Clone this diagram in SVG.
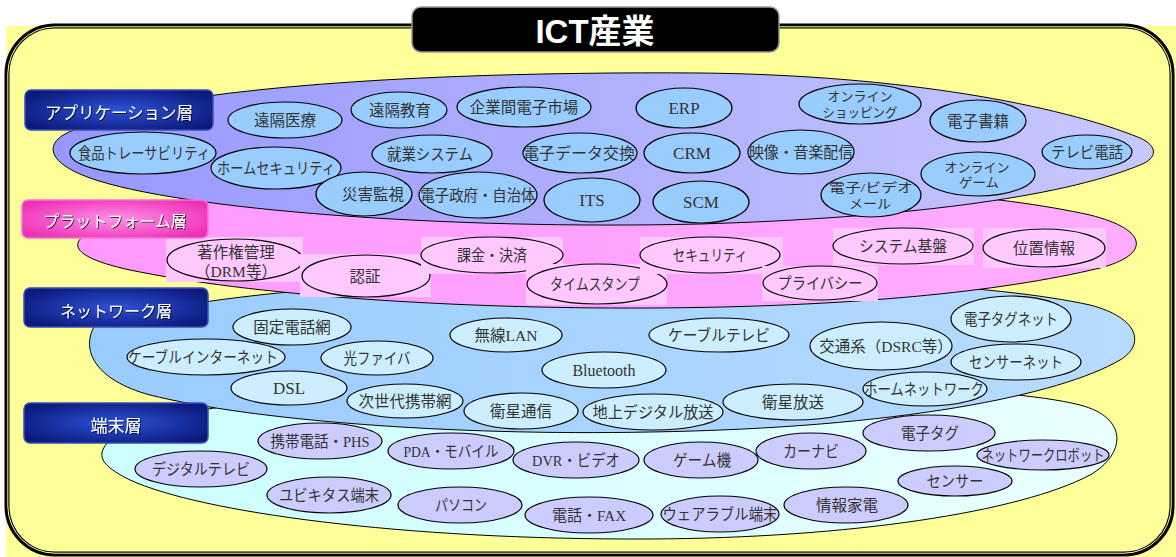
<svg xmlns="http://www.w3.org/2000/svg" width="1176" height="557" viewBox="0 0 1176 557">
<defs>
<linearGradient id="appGrad" x1="0" y1="0" x2="1" y2="0"><stop offset="0" stop-color="#9797FF"/><stop offset="1" stop-color="#C8C8FF"/></linearGradient>
<linearGradient id="platGrad" x1="0" y1="0" x2="1" y2="0"><stop offset="0" stop-color="#FF99FF"/><stop offset="1" stop-color="#FFACFF"/></linearGradient>
<linearGradient id="netGrad" x1="0" y1="0" x2="1" y2="0"><stop offset="0" stop-color="#99CCFF"/><stop offset="1" stop-color="#B8DCFF"/></linearGradient>
<linearGradient id="termGrad" x1="0" y1="0" x2="1" y2="0"><stop offset="0" stop-color="#CCFFFF"/><stop offset="1" stop-color="#EAFFFF"/></linearGradient>
<radialGradient id="blueLabel" cx="0.5" cy="0.5" r="0.6"><stop offset="0" stop-color="#2E52D8"/><stop offset="1" stop-color="#0B1A7C"/></radialGradient>
<radialGradient id="pinkLabel" cx="0.5" cy="0.5" r="0.6"><stop offset="0" stop-color="#FF92E6"/><stop offset="1" stop-color="#EE30B8"/></radialGradient>
<filter id="shadow" x="-10%" y="-30%" width="120%" height="160%"><feDropShadow dx="1" dy="1" stdDeviation="0.6" flood-color="#000" flood-opacity="0.7"/></filter>
</defs>
<style>
.band{stroke:#000;stroke-width:1}
ellipse{stroke:#000;stroke-width:1.2}
.app ellipse{fill:#99CCFF}
.plat ellipse{fill:#FFC8FF}
.plat rect{fill:#FFC8FF}
.net ellipse{fill:#CCEEFF}
.term ellipse{fill:#CCCCFF}
.t{font-family:"Liberation Serif","Noto Sans CJK JP",serif;font-size:15.5px;fill:#333;text-anchor:middle}
.s{font-size:14px}
.xs{font-size:13px}
.lat{font-size:17px}
.lbl{font-family:"Noto Sans CJK JP",sans-serif;font-size:16px;fill:#fff;text-anchor:middle;filter:url(#shadow)}
.lblbox{stroke-width:1.5}
</style>

<!-- background & frame -->
<rect x="6" y="26" width="1170" height="531" fill="#FFFF99"/>
<rect x="7" y="26" width="1165" height="528" rx="48" fill="none" stroke="#000" stroke-width="5"/>
<rect x="7.8" y="26.8" width="1163.4" height="526.4" rx="47.2" fill="none" stroke="#FFFF99" stroke-width="1"/>

<!-- terminal layer -->
<g id="terminal-layer">
<path class="band" fill="url(#termGrad)" d="M110,440 C140,410 300,392 500,388 C800,383 1000,385 1080,405 C1130,418 1125,455 1090,475 C1020,512 850,538 650,539 C400,540 200,512 130,480 C100,465 95,455 110,440 Z"/>
</g>
<g id="term-digitaltv" class="term"><ellipse cx="201" cy="469" rx="66" ry="18"/><text class="t" x="201" y="474.5" textLength="98" lengthAdjust="spacingAndGlyphs">デジタルテレビ</text></g>
<g id="term-keitai" class="term"><ellipse cx="320" cy="441" rx="62" ry="18"/><text class="t" x="320" y="446.5" textLength="99" lengthAdjust="spacingAndGlyphs">携帯電話・PHS</text></g>
<g id="term-ubiquitous" class="term"><ellipse cx="329" cy="495" rx="62" ry="18"/><text class="t" x="329" y="500.5" textLength="100" lengthAdjust="spacingAndGlyphs">ユビキタス端末</text></g>
<g id="term-pda" class="term"><ellipse cx="451" cy="451" rx="63" ry="18"/><text class="t" x="451" y="456.5" textLength="95" lengthAdjust="spacingAndGlyphs">PDA・モバイル</text></g>
<g id="term-dvr" class="term"><ellipse cx="576" cy="460" rx="63" ry="18"/><text class="t" x="576" y="465.5" textLength="88" lengthAdjust="spacingAndGlyphs">DVR・ビデオ</text></g>
<g id="term-game" class="term"><ellipse cx="701" cy="460" rx="57" ry="18"/><text class="t" x="702" y="465.5" textLength="58" lengthAdjust="spacingAndGlyphs">ゲーム機</text></g>
<g id="term-carnavi" class="term"><ellipse cx="811" cy="451" rx="55" ry="18"/><text class="t" x="811" y="456.5" textLength="56" lengthAdjust="spacingAndGlyphs">カーナビ</text></g>
<g id="term-etag" class="term"><ellipse cx="929" cy="433" rx="66" ry="18"/><text class="t" x="930" y="438.5" textLength="58" lengthAdjust="spacingAndGlyphs">電子タグ</text></g>
<g id="term-robot" class="term"><ellipse cx="1043" cy="455" rx="66" ry="15"/><text class="t" x="1043" y="460.5" textLength="123" lengthAdjust="spacingAndGlyphs">ネットワークロボット</text></g>
<g id="term-sensor" class="term"><ellipse cx="955" cy="481" rx="57" ry="15"/><text class="t" x="955" y="486.5" textLength="57" lengthAdjust="spacingAndGlyphs">センサー</text></g>
<g id="term-kaden" class="term"><ellipse cx="846" cy="505" rx="62" ry="18"/><text class="t" x="847" y="510.5">情報家電</text></g>
<g id="term-pc" class="term"><ellipse cx="460" cy="505" rx="62" ry="18"/><text class="t" x="461" y="510.5" textLength="52" lengthAdjust="spacingAndGlyphs">パソコン</text></g>
<g id="term-fax" class="term"><ellipse cx="589" cy="515" rx="64" ry="18"/><text class="t" x="589" y="520.5" textLength="74" lengthAdjust="spacingAndGlyphs">電話・FAX</text></g>
<g id="term-wearable" class="term"><ellipse cx="720" cy="514" rx="59" ry="18"/><text class="t" x="720" y="519.5" textLength="115" lengthAdjust="spacingAndGlyphs">ウェアラブル端末</text></g>

<!-- network layer -->
<g id="network-layer">
<path class="band" fill="url(#netGrad)" d="M95,325 C180,298 350,282 550,278 C800,273 1000,285 1090,305 C1140,318 1145,345 1120,360 C1060,395 900,428 650,432 C450,436 250,420 150,395 C95,380 80,350 95,325 Z"/>
</g>
<g id="net-kotei" class="net"><ellipse cx="292" cy="327" rx="59" ry="18"/><text class="t" x="292" y="332.5">固定電話網</text></g>
<g id="net-cableinternet" class="net"><ellipse cx="206" cy="357" rx="79" ry="18"/><text class="t" x="203" y="362.5" textLength="150" lengthAdjust="spacingAndGlyphs">ケーブルインターネット</text></g>
<g id="net-hikari" class="net"><ellipse cx="377" cy="358" rx="56" ry="17"/><text class="t" x="377" y="363.5" textLength="67" lengthAdjust="spacingAndGlyphs">光ファイバ</text></g>
<g id="net-wlan" class="net"><ellipse cx="506" cy="335" rx="56" ry="17"/><text class="t" x="506" y="340.5">無線LAN</text></g>
<g id="net-cabletv" class="net"><ellipse cx="719" cy="335" rx="70" ry="17"/><text class="t" x="719" y="340.5" textLength="102" lengthAdjust="spacingAndGlyphs">ケーブルテレビ</text></g>
<g id="net-bluetooth" class="net"><ellipse cx="604" cy="370" rx="62" ry="18"/><text class="t" x="604" y="376" style="font-size:16px">Bluetooth</text></g>
<g id="net-dsrc" class="net"><ellipse cx="881" cy="346" rx="71" ry="24"/><text class="t" x="886" y="351.5">交通系（DSRC等）</text></g>
<g id="net-tagnet" class="net"><ellipse cx="1011" cy="319" rx="60" ry="23"/><text class="t" x="1011" y="324.5" textLength="94" lengthAdjust="spacingAndGlyphs">電子タグネット</text></g>
<g id="net-sensornet" class="net"><ellipse cx="1016" cy="362" rx="65" ry="18"/><text class="t" x="1016" y="367.5" textLength="94" lengthAdjust="spacingAndGlyphs">センサーネット</text></g>
<g id="net-dsl" class="net"><ellipse cx="289" cy="388" rx="58" ry="17"/><text class="t lat" x="289" y="394">DSL</text></g>
<g id="net-jisedai" class="net"><ellipse cx="405" cy="401" rx="58" ry="17"/><text class="t" x="405" y="406.5">次世代携帯網</text></g>
<g id="net-eiseitsushin" class="net"><ellipse cx="521" cy="411" rx="57" ry="18"/><text class="t" x="521" y="416.5">衛星通信</text></g>
<g id="net-chideji" class="net"><ellipse cx="653" cy="412" rx="70" ry="18"/><text class="t" x="653" y="417.5" textLength="121" lengthAdjust="spacingAndGlyphs">地上デジタル放送</text></g>
<g id="net-eiseihoso" class="net"><ellipse cx="793" cy="402" rx="70" ry="18"/><text class="t" x="793" y="407.5">衛星放送</text></g>
<g id="net-homenet" class="net"><ellipse cx="925" cy="389" rx="62" ry="17"/><text class="t" x="924" y="394.5" textLength="120" lengthAdjust="spacingAndGlyphs">ホームネットワーク</text></g>

<!-- platform layer -->
<g id="platform-layer">
<path class="band" fill="url(#platGrad)" d="M85,215 C200,190 400,185 600,183 C850,182 1000,195 1090,215 C1150,230 1150,255 1100,268 C1000,292 850,307 650,308 C450,309 250,295 130,270 C75,258 70,245 85,235 Z"/>
</g>
<g id="plat-drm" class="plat"><rect x="166" y="237" width="137" height="45"/><ellipse cx="235" cy="260" rx="68" ry="21"/><text class="t" x="236" y="258">著作権管理</text><text class="t" x="236" y="277">（DRM等）</text></g>
<g id="plat-ninsho" class="plat"><rect x="300" y="254" width="131" height="43"/><ellipse cx="366" cy="276" rx="64" ry="21"/><text class="t" x="365" y="282">認証</text></g>
<g id="plat-kakin" class="plat"><rect x="421" y="237" width="142" height="37"/><ellipse cx="492" cy="255" rx="71" ry="18"/><text class="t" x="492" y="261" textLength="70" lengthAdjust="spacingAndGlyphs">課金・決済</text></g>
<g id="plat-timestamp" class="plat"><rect x="526" y="264" width="141" height="41"/><ellipse cx="597" cy="284" rx="70" ry="20"/><text class="t" x="595" y="290" textLength="90" lengthAdjust="spacingAndGlyphs">タイムスタンプ</text></g>
<g id="plat-security" class="plat"><rect x="640" y="237" width="143" height="37"/><ellipse cx="710" cy="255" rx="70" ry="18"/><text class="t" x="710" y="261" textLength="75" lengthAdjust="spacingAndGlyphs">セキュリティ</text></g>
<g id="plat-privacy" class="plat"><rect x="762" y="266" width="116" height="35"/><ellipse cx="820" cy="283" rx="57" ry="17"/><text class="t" x="820" y="289" textLength="85" lengthAdjust="spacingAndGlyphs">プライバシー</text></g>
<g id="plat-system" class="plat"><rect x="833" y="228" width="141" height="37"/><ellipse cx="903" cy="246" rx="70" ry="18"/><text class="t" x="903" y="252" textLength="88" lengthAdjust="spacingAndGlyphs">システム基盤</text></g>
<g id="plat-ichi" class="plat"><rect x="983" y="228" width="123" height="40"/><ellipse cx="1044" cy="248" rx="61" ry="19"/><text class="t" x="1044" y="254">位置情報</text></g>

<!-- application layer -->
<g id="application-layer">
<path class="band" fill="url(#appGrad)" d="M200,97 C350,76 550,72 700,73 C900,75 1060,105 1140,138 C1158,146 1158,158 1140,165 C1060,198 900,218 700,224 C450,230 180,210 90,178 C40,160 45,138 80,128 Z"/>
</g>
<g id="app-iryo" class="app"><ellipse cx="285" cy="120" rx="57" ry="18"/><text class="t" x="285" y="125.5">遠隔医療</text></g>
<g id="app-kyoiku" class="app"><ellipse cx="399" cy="110" rx="48" ry="18"/><text class="t" x="400" y="115.5">遠隔教育</text></g>
<g id="app-shijo" class="app"><ellipse cx="524" cy="107" rx="67" ry="20"/><text class="t" x="524" y="112.5">企業間電子市場</text></g>
<g id="app-erp" class="app"><ellipse cx="684" cy="108" rx="48" ry="20"/><text class="t lat" x="684" y="114">ERP</text></g>
<g id="app-shopping" class="app"><ellipse cx="860" cy="104" rx="61" ry="20"/><text class="t xs" x="860" y="101" textLength="65" lengthAdjust="spacingAndGlyphs">オンライン</text><text class="t xs" x="860" y="117" textLength="75" lengthAdjust="spacingAndGlyphs">ショッピング</text></g>
<g id="app-shoseki" class="app"><ellipse cx="978" cy="121" rx="48" ry="21"/><text class="t" x="978" y="126.5">電子書籍</text></g>
<g id="app-trace" class="app"><ellipse cx="143" cy="153" rx="73" ry="21"/><text class="t" x="144" y="158.5" textLength="132" lengthAdjust="spacingAndGlyphs">食品トレーサビリティ</text></g>
<g id="app-homesec" class="app"><ellipse cx="276" cy="168" rx="65" ry="21"/><text class="t" x="276" y="173.5" textLength="118" lengthAdjust="spacingAndGlyphs">ホームセキュリティ</text></g>
<g id="app-shugyo" class="app"><ellipse cx="432" cy="154" rx="60" ry="19"/><text class="t" x="430" y="159.5" textLength="86" lengthAdjust="spacingAndGlyphs">就業システム</text></g>
<g id="app-edi" class="app"><ellipse cx="580" cy="153" rx="57" ry="20"/><text class="t" x="579" y="158.5" textLength="112" lengthAdjust="spacingAndGlyphs">電子データ交換</text></g>
<g id="app-crm" class="app"><ellipse cx="692" cy="153" rx="48" ry="20"/><text class="t lat" x="692" y="159">CRM</text></g>
<g id="app-eizo" class="app"><ellipse cx="801" cy="152" rx="53" ry="22"/><text class="t" x="801" y="157.5" textLength="104" lengthAdjust="spacingAndGlyphs">映像・音楽配信</text></g>
<g id="app-tvphone" class="app"><ellipse cx="1087" cy="152" rx="45" ry="17"/><text class="t" x="1087" y="157.5" textLength="72" lengthAdjust="spacingAndGlyphs">テレビ電話</text></g>
<g id="app-game" class="app"><ellipse cx="978" cy="174" rx="57" ry="22"/><text class="t xs" x="977" y="172" textLength="65" lengthAdjust="spacingAndGlyphs">オンライン</text><text class="t xs" x="979" y="187" textLength="40" lengthAdjust="spacingAndGlyphs">ゲーム</text></g>
<g id="app-mail" class="app"><ellipse cx="871" cy="195" rx="50" ry="22"/><text class="t xs" x="871" y="192" textLength="84" lengthAdjust="spacingAndGlyphs">電子/ビデオ</text><text class="t xs" x="870" y="208" textLength="42" lengthAdjust="spacingAndGlyphs">メール</text></g>
<g id="app-saigai" class="app"><ellipse cx="364" cy="194" rx="48" ry="22"/><text class="t" x="373" y="199.5">災害監視</text></g>
<g id="app-seifu" class="app"><ellipse cx="478" cy="195" rx="59" ry="23"/><text class="t" x="478" y="200.5" textLength="115" lengthAdjust="spacingAndGlyphs">電子政府・自治体</text></g>
<g id="app-its" class="app"><ellipse cx="592" cy="200" rx="48" ry="22"/><text class="t lat" x="592" y="206">ITS</text></g>
<g id="app-scm" class="app"><ellipse cx="701" cy="202" rx="48" ry="21"/><text class="t lat" x="701" y="208">SCM</text></g>

<!-- layer labels -->
<g id="label-application"><rect class="lblbox" x="25" y="90" width="188" height="40" rx="6" fill="url(#blueLabel)" stroke="#3A4CB8"/><text class="lbl" x="119" y="118.5" style="font-size:16.5px">アプリケーション層</text></g>
<g id="label-platform"><rect class="lblbox" x="22" y="200" width="186" height="38" rx="6" fill="url(#pinkLabel)" stroke="#FF70D4"/><text class="lbl" x="115" y="227">プラットフォーム層</text></g>
<g id="label-network"><rect class="lblbox" x="24" y="288" width="184" height="39" rx="6" fill="url(#blueLabel)" stroke="#3A4CB8"/><text class="lbl" x="116" y="317">ネットワーク層</text></g>
<g id="label-terminal"><rect class="lblbox" x="24" y="403" width="184" height="40" rx="6" fill="url(#blueLabel)" stroke="#3A4CB8"/><text class="lbl" x="116" y="432" style="font-size:17px">端末層</text></g>

<!-- title -->
<g id="title"><rect x="412" y="7" width="367" height="45" rx="9" fill="#000" stroke="#999" stroke-width="1.5"/><text x="595" y="43" text-anchor="middle" style="font-family:'Liberation Sans','Noto Sans CJK JP',sans-serif;font-size:33px;font-weight:bold;fill:#fff">ICT産業</text></g>
</svg>
